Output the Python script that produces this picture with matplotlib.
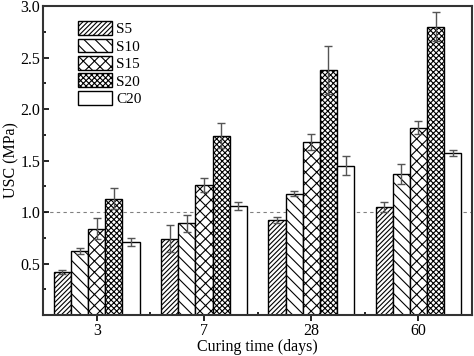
import numpy as np
import matplotlib.pyplot as plt
from matplotlib.ticker import MultipleLocator

plt.rcParams['font.family'] = ['Liberation Serif', 'DejaVu Serif']
plt.rcParams['hatch.linewidth'] = 0.8

days = ['3', '7', '28', '60']
series = ['S5', 'S10', 'S15', 'S20', 'C20']
s5 = [0.42, 0.74, 0.92, 1.05]
s10 = [0.62, 0.89, 1.18, 1.37]
s15 = [0.84, 1.26, 1.68, 1.82]
s20 = [1.13, 1.74, 2.38, 2.80]
c20 = [0.71, 1.06, 1.45, 1.57]
s5_err = [0.02, 0.13, 0.03, 0.05]
s10_err = [0.03, 0.08, 0.02, 0.10]
s15_err = [0.10, 0.07, 0.08, 0.06]
s20_err = [0.10, 0.12, 0.23, 0.14]
c20_err = [0.04, 0.04, 0.09, 0.03]

values = [s5, s10, s15, s20, c20]
errors = [s5_err, s10_err, s15_err, s20_err, c20_err]
hatches = ['///////', '\\\\\\', 'xxx', 'xxxxxx', '']

fig = plt.figure(figsize=(4.74, 3.56), dpi=100)
ax = fig.add_axes([0.091, 0.115, 0.905, 0.868])

x = np.arange(len(days))
w = 0.16
for i in range(len(series)):
    ax.bar(x + (i - 2) * w, values[i], w, yerr=errors[i], label=series[i],
           color='white', edgecolor='black', hatch=hatches[i], linewidth=1.0,
           error_kw=dict(ecolor='#555555', elinewidth=1.0, capsize=3, capthick=1.0))

ax.axhline(1.0, color='gray', linestyle=(0, (3, 3)), linewidth=0.8, zorder=0)

ax.set_xlim(-0.5, 3.5)
ax.set_ylim(0.0, 3.0)
ax.set_xticks(x)
ax.set_xticklabels(days)
ax.set_xticks([0.5, 1.5, 2.5], minor=True)
ax.set_yticks([0.5, 1.0, 1.5, 2.0, 2.5, 3.0])
ax.yaxis.set_minor_locator(MultipleLocator(0.25))
ax.tick_params(direction='in', which='both', labelsize=11.5, width=1.2)
ax.tick_params(which='major', length=4)
ax.tick_params(which='minor', length=2.5)
ax.tick_params(axis='x', which='major', direction='out', pad=1.5)
ax.tick_params(axis='y', pad=2)
for sp in ax.spines.values():
    sp.set_linewidth(1.5)
    sp.set_color('#333333')

ax.set_ylabel('USC (MPa)', fontsize=11.5, labelpad=1)
ax.set_xlabel('Curing time (days)', fontsize=11.5, labelpad=0)

ax.legend(loc='upper left', bbox_to_anchor=(0.06, 0.98), frameon=False, fontsize=11,
          handlelength=2.2, handleheight=1.0, labelspacing=0.15, handletextpad=0.3,
          borderaxespad=0.2)

plt.savefig('out.png', dpi=100)
